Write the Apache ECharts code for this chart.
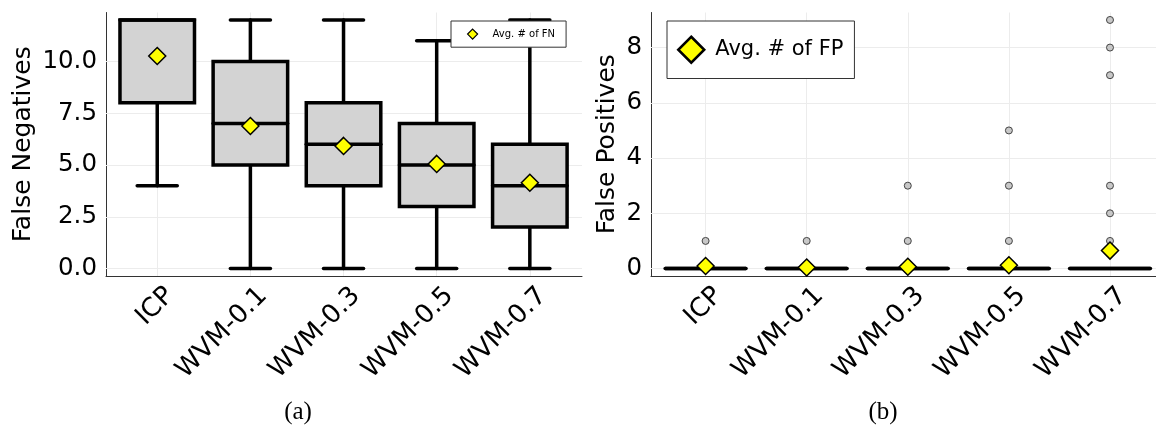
<!DOCTYPE html>
<html>
<head>
<meta charset="utf-8">
<script src="https://cdn.jsdelivr.net/npm/echarts@6/dist/echarts.min.js"></script>
<style>
html,body{margin:0;padding:0;background:#fff;}
#chart{width:1156px;height:426px;}
</style>
</head>
<body>
<div id="chart"></div>
<script>
// ---- data ----
const categories = ['ICP', 'WVM-0.1', 'WVM-0.3', 'WVM-0.5', 'WVM-0.7'];
// False negatives (a)
const fnMin    = [4, 0, 0, 0, 0];
const fnQ1     = [8, 5, 4, 3, 2];
const fnMedian = [12, 7, 6, 5, 4];
const fnQ3     = [12, 10, 8, 7, 6];
const fnMax    = [12, 12, 12, 11, 12];
const fnMean   = [10.26, 6.88, 5.92, 5.05, 4.14];
const fnTicks  = [0, 2.5, 5, 7.5, 10];
// False positives (b)
const fpMin    = [0, 0, 0, 0, 0];
const fpQ1     = [0, 0, 0, 0, 0];
const fpMedian = [0, 0, 0, 0, 0];
const fpQ3     = [0, 0, 0, 0, 0];
const fpMax    = [0, 0, 0, 0, 0];
const fpOutliers = [[1], [1], [1, 3], [1, 3, 5], [1, 2, 3, 7, 8, 9]];
const fpMean   = [0.09, 0.04, 0.065, 0.12, 0.65];
const fpTicks  = [0, 2, 4, 6, 8];

// ---- helpers ----
const FONT = 'DejaVu Sans';
const catPos = categories.map((c, i) => i + 1);
const labelFmt = v => categories[Math.round(v) - 1] || '';

function boxData(mn, q1, md, q3, mx) {
  return categories.map((c, i) => [i + 1, mn[i], q1[i], md[i], q3[i], mx[i]]);
}
function renderBox(params, api) {
  const x = api.value(0);
  const halfW = api.size([0.8, 0])[0] / 2;
  const capW = api.size([0.43, 0])[0] / 2;
  const pMin = api.coord([x, api.value(1)]);
  const pQ1 = api.coord([x, api.value(2)]);
  const pMd = api.coord([x, api.value(3)]);
  const pQ3 = api.coord([x, api.value(4)]);
  const pMax = api.coord([x, api.value(5)]);
  const ln = {stroke: '#000', lineWidth: 3.5, lineCap: 'round'};
  const line = (x1, y1, x2, y2) => ({type: 'line', shape: {x1, y1, x2, y2}, style: ln});
  const children = [];
  if (pMin[1] !== pQ1[1]) {
    children.push(line(pMin[0], pMin[1], pQ1[0], pQ1[1]));
    children.push(line(pMin[0] - capW, pMin[1], pMin[0] + capW, pMin[1]));
  }
  if (pMax[1] !== pQ3[1]) {
    children.push(line(pMax[0], pMax[1], pQ3[0], pQ3[1]));
    children.push(line(pMax[0] - capW, pMax[1], pMax[0] + capW, pMax[1]));
  }
  children.push({
    type: 'rect',
    shape: {x: pQ3[0] - halfW, y: pQ3[1], width: halfW * 2, height: pQ1[1] - pQ3[1]},
    style: {fill: '#d3d3d3', stroke: '#000', lineWidth: 3.5, lineJoin: 'miter'}
  });
  children.push(line(pMd[0] - halfW, pMd[1], pMd[0] + halfW, pMd[1]));
  return {type: 'group', children};
}
function gridLines(ticks) {
  return {
    silent: true, symbol: 'none', z: 1, animation: false,
    label: {show: false},
    lineStyle: {color: '#ececec', width: 1, type: 'solid'},
    emphasis: {disabled: true},
    data: catPos.map(v => ({xAxis: v})).concat(ticks.map(v => ({yAxis: v})))
  };
}
function xAxisDef(gi, min, max) {
  return {
    type: 'value', gridIndex: gi, min, max,
    splitLine: {show: false},
    axisLine: {show: true, onZero: false, lineStyle: {color: '#333', width: 1}},
    axisTick: {show: true, inside: true, length: 4, customValues: catPos, lineStyle: {color: '#333'}},
    axisLabel: {customValues: catPos, formatter: labelFmt, rotate: 45, margin: 3,
      verticalAlign: 'top', align: 'right', padding: [5, 0, 0, 0],
      fontFamily: FONT, fontSize: 26, color: '#000'}
  };
}
function yAxisDef(gi, min, max, ticks, fmt, name, gap) {
  return {
    type: 'value', gridIndex: gi, min, max,
    splitLine: {show: false},
    axisLine: {show: true, onZero: false, lineStyle: {color: '#333', width: 1}},
    axisTick: {show: true, inside: true, length: 4, customValues: ticks, lineStyle: {color: '#333'}},
    axisLabel: {customValues: ticks, formatter: fmt, margin: 9,
      fontFamily: FONT, fontSize: 24.5, color: '#000'},
    name, nameLocation: 'middle', nameGap: gap,
    nameTextStyle: {fontFamily: FONT, fontSize: 25, color: '#000'}
  };
}

const chart = echarts.init(document.getElementById('chart'), null, {renderer: 'canvas'});
chart.setOption({
  animation: false,
  backgroundColor: '#fff',
  grid: [
    {left: 106, top: 12.5, width: 476, height: 263.5},
    {left: 651, top: 12.5, width: 505, height: 263.5}
  ],
  xAxis: [xAxisDef(0, 0.45, 5.56), xAxisDef(1, 0.46, 5.455)],
  yAxis: [
    yAxisDef(0, -0.36, 12.36, fnTicks, v => v.toFixed(1), 'False Negatives', 70),
    yAxisDef(1, -0.27, 9.27, fpTicks, v => String(v), 'False Positives', 31)
  ],
  legend: [
    {
      data: ['Avg. # of FN'], left: 451, top: 21, orient: 'horizontal',
      padding: [7.5, 11, 7.5, 16], itemWidth: 10, itemHeight: 10,
      backgroundColor: '#fff', borderColor: '#333', borderWidth: 1, borderRadius: 0,
      textStyle: {fontFamily: FONT, fontSize: 10, color: '#000', padding: [0, 0, 0, 10]},
      itemStyle: {borderColor: '#000', borderWidth: 1.2}, z: 10, selectedMode: false
    },
    {
      data: ['Avg. # of FP'], left: 667, top: 21, orient: 'horizontal',
      padding: [14.5, 11, 14.5, 10], itemWidth: 26, itemHeight: 26,
      backgroundColor: '#fff', borderColor: '#333', borderWidth: 1, borderRadius: 0,
      textStyle: {fontFamily: FONT, fontSize: 21, color: '#000', padding: [0, 0, 0, 6]},
      itemStyle: {borderColor: '#000', borderWidth: 2.5}, z: 10, selectedMode: false
    }
  ],
  graphic: [
    {type: 'text', x: 298, y: 412, style: {text: '(a)', font: '25px "Liberation Serif"', fill: '#000', textAlign: 'center', textVerticalAlign: 'middle'}},
    {type: 'text', x: 883, y: 412, style: {text: '(b)', font: '25px "Liberation Serif"', fill: '#000', textAlign: 'center', textVerticalAlign: 'middle'}}
  ],
  series: [
    {
      type: 'custom', name: 'FN box', xAxisIndex: 0, yAxisIndex: 0, z: 2,
      renderItem: renderBox, encode: {x: 0, y: [1, 2, 3, 4, 5]},
      data: boxData(fnMin, fnQ1, fnMedian, fnQ3, fnMax),
      markLine: gridLines(fnTicks), silent: true
    },
    {
      type: 'scatter', name: 'Avg. # of FN', xAxisIndex: 0, yAxisIndex: 0, z: 4,
      symbol: 'diamond', symbolSize: 17,
      itemStyle: {color: '#ffff00', borderColor: '#000', borderWidth: 1.5, opacity: 1},
      data: fnMean.map((v, i) => [i + 1, v])
    },
    {
      type: 'custom', name: 'FP box', xAxisIndex: 1, yAxisIndex: 1, z: 2,
      renderItem: renderBox, encode: {x: 0, y: [1, 2, 3, 4, 5]},
      data: boxData(fpMin, fpQ1, fpMedian, fpQ3, fpMax),
      markLine: gridLines(fpTicks), silent: true
    },
    {
      type: 'scatter', name: 'FP outliers', xAxisIndex: 1, yAxisIndex: 1, z: 3,
      symbol: 'circle', symbolSize: 7,
      itemStyle: {color: '#c8c8c8', borderColor: '#444', borderWidth: 1, opacity: 1},
      data: fpOutliers.flatMap((arr, i) => arr.map(v => [i + 1, v]))
    },
    {
      type: 'scatter', name: 'Avg. # of FP', xAxisIndex: 1, yAxisIndex: 1, z: 4,
      symbol: 'diamond', symbolSize: 17,
      itemStyle: {color: '#ffff00', borderColor: '#000', borderWidth: 1.5, opacity: 1},
      data: fpMean.map((v, i) => [i + 1, v])
    }
  ]
});
</script>
</body>
</html>
